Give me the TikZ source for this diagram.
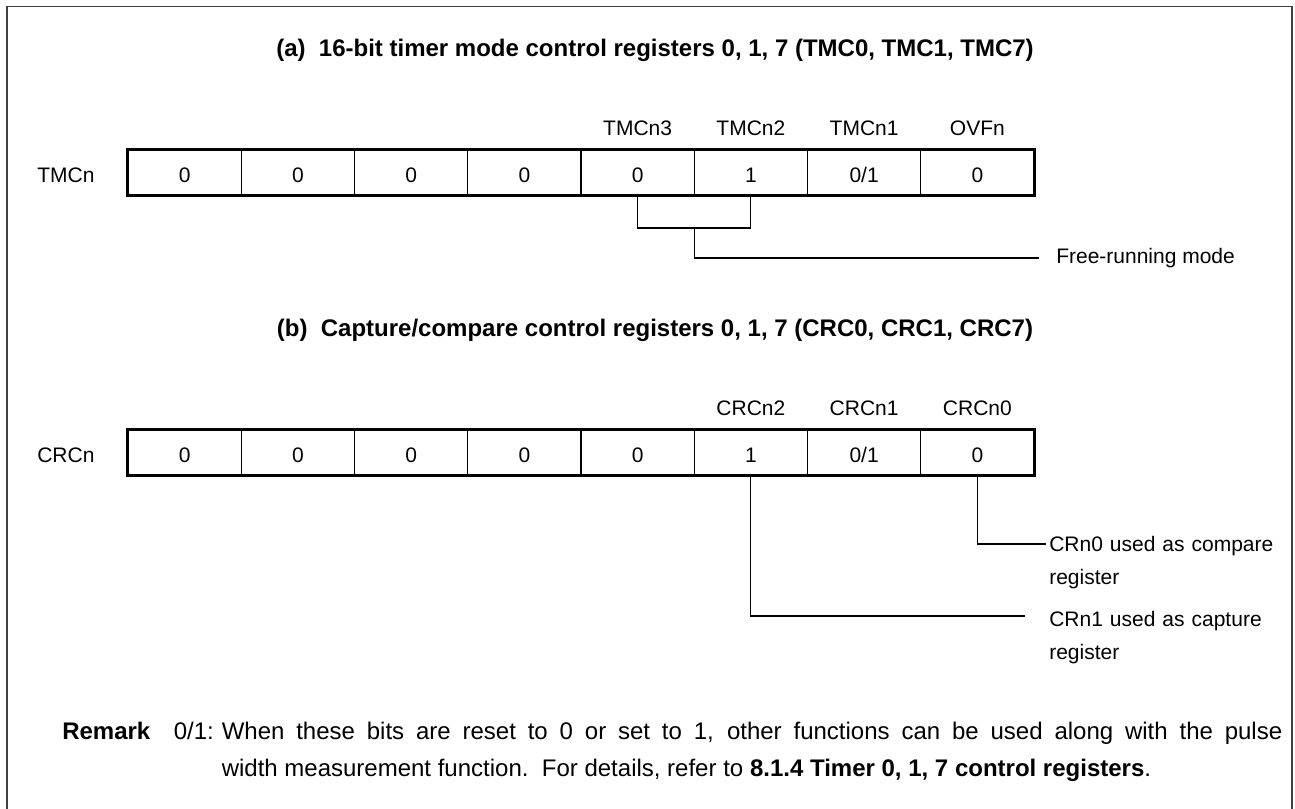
\documentclass[tikz,border=0pt]{standalone}
\usepackage{fontspec}
\setmainfont{Liberation Sans}
\usetikzlibrary{calc}
\begin{document}
\begin{tikzpicture}[x=0.75pt,y=-0.75pt,
  lbl/.style={font=\fontsize{15.75}{24.75}\selectfont, inner sep=0pt},
  ttl/.style={font=\fontsize{18}{22}\selectfont\bfseries, inner sep=0pt},
  cell/.style={draw, line width=1pt, minimum width=84.94pt, minimum height=33.75pt,
    inner sep=0pt, text height=15.1pt, text depth=0pt, font=\fontsize{15.75}{19}\selectfont},
  regbox/.style={line width=2.6pt},
  conn/.style={line width=0.8pt},
  frameline/.style={line width=1.3pt, draw=black!75},
  note/.style={font=\fontsize{15.75}{24.75}\selectfont, inner sep=0pt, text width=180pt, align=left, anchor=base west}]
\useasboundingbox (0,0) rectangle (1295,808);
\draw[frameline] (7,812) -- (7,6.5) -- (1292,6.5) -- (1292,812);

% ---------- (a) ----------
\node[ttl] (ta) at (655,50) {(a)\ \ 16-bit timer mode control registers 0, 1, 7 (TMC0, TMC1, TMC7)};
\foreach \i/\v in {1/0,2/0,3/0,4/0,5/0,6/1,7/0\slash 1,8/0}
  \node[cell] (a\i) at ({128+113.25*(\i-0.5)},172.5) {\v};
\draw[regbox] (a1.north west) rectangle (a8.south east);
\node[lbl, anchor=west] (ra) at (37,175) {TMCn};
\node[lbl] (na5) at (a5 |- 0,128) {TMCn3};
\node[lbl] (na6) at (a6 |- 0,128) {TMCn2};
\node[lbl] (na7) at (a7 |- 0,128) {TMCn1};
\node[lbl] (na8) at (a8 |- 0,128) {OVFn};
\coordinate (bl) at (a5.south |- 0,228);
\coordinate (br) at (a6.south |- 0,228);
\coordinate (bm) at ($(bl)!0.5!(br)$);
\draw[conn] (a5.south) -- (bl) -- (br) -- (a6.south);
\node[lbl, anchor=west, inner xsep=12.75pt] (fr) at (1039,258) {Free-running mode};
\draw[conn] (bm) |- (fr.west);

% ---------- (b) ----------
\node[ttl] (tb) at (655,330) {(b)\ \ Capture/compare control registers 0, 1, 7 (CRC0, CRC1, CRC7)};
\foreach \i/\v in {1/0,2/0,3/0,4/0,5/0,6/1,7/0\slash 1,8/0}
  \node[cell] (b\i) at ({128+113.25*(\i-0.5)},452.5) {\v};
\draw[regbox] (b1.north west) rectangle (b8.south east);
\node[lbl, anchor=west] (rb) at (37,455) {CRCn};
\node[lbl] (nb6) at (b6 |- 0,408) {CRCn2};
\node[lbl] (nb7) at (b7 |- 0,408) {CRCn1};
\node[lbl] (nb8) at (b8 |- 0,408) {CRCn0};
\coordinate (e0) at (1046,544);
\coordinate (e1) at (1025,616);
\draw[conn] (b8.south) |- (e0);
\draw[conn] (b6.south) |- (e1);
\node[note] (c0) at (1049,551.5) {CRn0 used as compare\\register};
\node[note] (c1) at (1049,626.5) {CRn1 used as capture\\register};

% ---------- Remark ----------
\node[font=\fontsize{18}{27.75}\selectfont\bfseries, inner sep=0pt, anchor=base west] (rm) at (62,739.6) {Remark};
\node[font=\fontsize{18}{27.75}\selectfont, inner sep=0pt, anchor=base west] (rk) at (173.5,739.6) {0/1:};
\node[font=\fontsize{18}{27.75}\selectfont, inner sep=0pt, anchor=base west, text width=795.4pt, align=justify]
  (rt) at (221.5,739.6) {\hyphenpenalty=10000\exhyphenpenalty=10000
  When these bits are reset to 0 or set to 1, other functions can be used along with the pulse\linebreak
  width measurement function.\ \ For details, refer to \textbf{8.1.4 Timer 0, 1, 7 control registers}.};
\end{tikzpicture}
\end{document}
